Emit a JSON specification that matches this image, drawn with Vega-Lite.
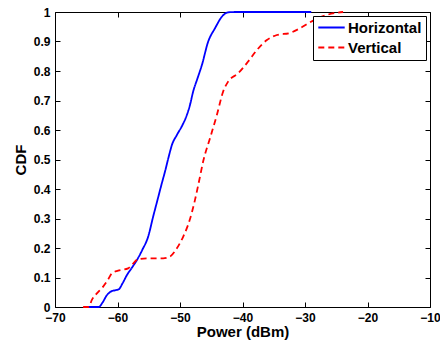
{
  "$schema": "https://vega.github.io/schema/vega-lite/v6.json",
  "width": 375,
  "height": 295,
  "autosize": {"type": "none"},
  "padding": {"left": 55, "top": 12, "right": 10, "bottom": 40},
  "background": "white",
  "config": {
    "view": {"stroke": null},
    "font": "Liberation Sans",
    "axis": {"grid": false, "domainColor": "black", "tickColor": "black", "domainWidth": 1, "tickWidth": 1, "labelColor": "black", "titleColor": "black", "labelFont": "Liberation Sans", "labelFontWeight": "bold", "labelFontSize": 12, "titleFont": "Liberation Sans", "titleFontWeight": "bold", "titleFontSize": 15},
    "legend": {"strokeColor": "black", "strokeWidth": 1, "fillColor": "white"}
  },
  "data": {"values": [
    {"series": "Horizontal", "power": -64.7, "cdf": 0},
    {"series": "Horizontal", "power": -63.0, "cdf": 0},
    {"series": "Horizontal", "power": -62.4, "cdf": 0.015},
    {"series": "Horizontal", "power": -61.7, "cdf": 0.04},
    {"series": "Horizontal", "power": -61.0, "cdf": 0.053},
    {"series": "Horizontal", "power": -60.3, "cdf": 0.057},
    {"series": "Horizontal", "power": -59.8, "cdf": 0.06},
    {"series": "Horizontal", "power": -59.2, "cdf": 0.08},
    {"series": "Horizontal", "power": -58.5, "cdf": 0.108},
    {"series": "Horizontal", "power": -57.7, "cdf": 0.133},
    {"series": "Horizontal", "power": -56.9, "cdf": 0.159},
    {"series": "Horizontal", "power": -56.0, "cdf": 0.195},
    {"series": "Horizontal", "power": -55.1, "cdf": 0.238},
    {"series": "Horizontal", "power": -54.3, "cdf": 0.306},
    {"series": "Horizontal", "power": -53.6, "cdf": 0.363},
    {"series": "Horizontal", "power": -52.9, "cdf": 0.42},
    {"series": "Horizontal", "power": -52.4, "cdf": 0.459},
    {"series": "Horizontal", "power": -51.8, "cdf": 0.51},
    {"series": "Horizontal", "power": -51.3, "cdf": 0.549},
    {"series": "Horizontal", "power": -50.5, "cdf": 0.583},
    {"series": "Horizontal", "power": -49.6, "cdf": 0.617},
    {"series": "Horizontal", "power": -48.9, "cdf": 0.651},
    {"series": "Horizontal", "power": -48.4, "cdf": 0.685},
    {"series": "Horizontal", "power": -47.9, "cdf": 0.73},
    {"series": "Horizontal", "power": -47.2, "cdf": 0.775},
    {"series": "Horizontal", "power": -46.5, "cdf": 0.82},
    {"series": "Horizontal", "power": -45.5, "cdf": 0.899},
    {"series": "Horizontal", "power": -44.4, "cdf": 0.945},
    {"series": "Horizontal", "power": -43.3, "cdf": 0.984},
    {"series": "Horizontal", "power": -42.3, "cdf": 0.999},
    {"series": "Horizontal", "power": -41.0, "cdf": 1},
    {"series": "Horizontal", "power": -29.0, "cdf": 1},
    {"series": "Vertical", "power": -65.5, "cdf": 0},
    {"series": "Vertical", "power": -64.6, "cdf": 0},
    {"series": "Vertical", "power": -64.1, "cdf": 0.024},
    {"series": "Vertical", "power": -63.3, "cdf": 0.046},
    {"series": "Vertical", "power": -62.3, "cdf": 0.069},
    {"series": "Vertical", "power": -61.6, "cdf": 0.09},
    {"series": "Vertical", "power": -60.9, "cdf": 0.114},
    {"series": "Vertical", "power": -59.9, "cdf": 0.123},
    {"series": "Vertical", "power": -58.3, "cdf": 0.131},
    {"series": "Vertical", "power": -57.5, "cdf": 0.147},
    {"series": "Vertical", "power": -56.7, "cdf": 0.162},
    {"series": "Vertical", "power": -55.3, "cdf": 0.165},
    {"series": "Vertical", "power": -52.7, "cdf": 0.165},
    {"series": "Vertical", "power": -51.6, "cdf": 0.171},
    {"series": "Vertical", "power": -50.5, "cdf": 0.199},
    {"series": "Vertical", "power": -49.5, "cdf": 0.238},
    {"series": "Vertical", "power": -48.4, "cdf": 0.298},
    {"series": "Vertical", "power": -47.6, "cdf": 0.363},
    {"series": "Vertical", "power": -46.8, "cdf": 0.442},
    {"series": "Vertical", "power": -46.3, "cdf": 0.493},
    {"series": "Vertical", "power": -45.2, "cdf": 0.572},
    {"series": "Vertical", "power": -44.1, "cdf": 0.651},
    {"series": "Vertical", "power": -43.1, "cdf": 0.73},
    {"series": "Vertical", "power": -42.3, "cdf": 0.764},
    {"series": "Vertical", "power": -40.7, "cdf": 0.792},
    {"series": "Vertical", "power": -39.1, "cdf": 0.832},
    {"series": "Vertical", "power": -37.7, "cdf": 0.871},
    {"series": "Vertical", "power": -36.1, "cdf": 0.905},
    {"series": "Vertical", "power": -34.5, "cdf": 0.922},
    {"series": "Vertical", "power": -32.4, "cdf": 0.929},
    {"series": "Vertical", "power": -30.8, "cdf": 0.945},
    {"series": "Vertical", "power": -29.2, "cdf": 0.965},
    {"series": "Vertical", "power": -26.5, "cdf": 0.99},
    {"series": "Vertical", "power": -23.9, "cdf": 1.0}
  ]},
  "layer": [
    {
      "mark": {"type": "line", "strokeWidth": 1.8, "interpolate": "monotone"},
      "encoding": {
        "x": {"field": "power", "type": "quantitative", "scale": {"domain": [-70, -10], "nice": false, "zero": false},
          "axis": {"orient": "bottom", "values": [-70, -60, -50, -40, -30, -20, -10], "format": "d", "title": "Power (dBm)", "tickSize": -5, "labelPadding": 10, "titlePadding": 1, "labelFlush": false}},
        "y": {"field": "cdf", "type": "quantitative", "scale": {"domain": [0, 1], "nice": false},
          "axis": {"orient": "left", "values": [0, 0.1, 0.2, 0.3, 0.4, 0.5, 0.6, 0.7, 0.8, 0.9, 1], "format": ".1~f", "title": "CDF", "tickSize": -5, "labelPadding": 10, "titlePadding": 5, "labelFlush": false}},
        "color": {"field": "series", "type": "nominal", "scale": {"domain": ["Horizontal", "Vertical"], "range": ["#0000ff", "#ff0000"]},
          "legend": {"title": null, "orient": "none", "legendX": 258, "legendY": 4, "symbolType": "M-2.2,0H2.2", "symbolSize": 144, "symbolOffset": 7, "symbolStrokeWidth": 1.8, "labelFont": "Liberation Sans", "labelFontWeight": "bold", "labelFontSize": 15, "labelColor": "black", "labelOffset": 9, "rowPadding": 4, "padding": 4, "strokeColor": "black", "fillColor": "white", "cornerRadius": 0}},
        "strokeDash": {"field": "series", "type": "nominal", "scale": {"domain": ["Horizontal", "Vertical"], "range": [[1, 0], [6, 4]]}, "legend": null}
      }
    },
    {
      "mark": {"type": "line", "strokeWidth": 0, "opacity": 0},
      "encoding": {
        "x": {"field": "power", "type": "quantitative", "axis": {"orient": "top", "values": [-70, -60, -50, -40, -30, -20, -10], "labels": false, "title": null, "tickSize": -5}},
        "y": {"field": "cdf", "type": "quantitative", "axis": {"orient": "right", "values": [0, 0.1, 0.2, 0.3, 0.4, 0.5, 0.6, 0.7, 0.8, 0.9, 1], "labels": false, "title": null, "tickSize": -5}},
        "detail": {"field": "series", "type": "nominal"}
      }
    }
  ],
  "resolve": {"axis": {"x": "independent", "y": "independent"}}
}
